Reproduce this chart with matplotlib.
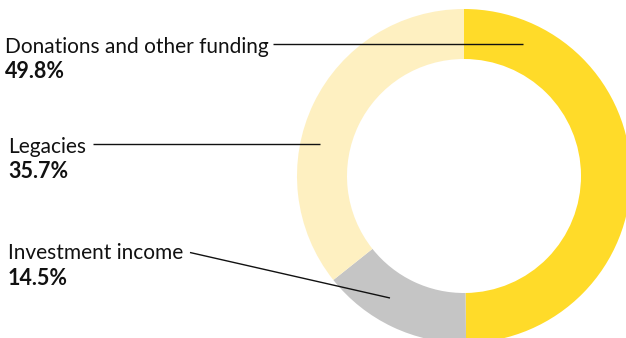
import matplotlib
matplotlib.use("Agg")
import matplotlib.pyplot as plt

categories = ["Donations and other funding", "Investment income", "Legacies"]
shares = [49.8, 14.5, 35.7]
colours = ["#FFDB29", "#C5C5C5", "#FEF0C1"]

W, H = 626, 338
fig = plt.figure(figsize=(W / 100, H / 100), dpi=100)
ax = fig.add_axes([0, 0, 1, 1])

# donut, centre and radius in pixels
cx, cy, r = 464, H - 176, 167
ax.pie(shares, colors=colours, startangle=90, counterclock=False,
       center=(cx, cy), radius=r, frame=True,
       wedgeprops=dict(width=50, edgecolor="none", linewidth=0))
ax.set_xlim(0, W)
ax.set_ylim(0, H)
ax.axis("off")

# label text: (x, name baseline, pct baseline) in pixels from top
label_pos = {
    "Donations and other funding": (5, 53, 78),
    "Legacies": (8, 153, 178),
    "Investment income": (8, 259, 285),
}
# leader lines (x0, y0, x1, y1) pixels from top
leaders = {
    "Donations and other funding": (273, 44, 523, 44),
    "Legacies": (93, 144, 320, 144),
    "Investment income": (190, 252.5, 390, 298),
}

for name, val in zip(categories, shares):
    x, yb, yp = label_pos[name]
    ax.text(x, H - yb, name, family="Lato", fontsize=15, color="#111111",
            va="baseline", ha="left")
    ax.text(x, H - yp, f"{val:.1f}%", family="Lato", fontweight="bold",
            fontsize=15.5, color="#111111", va="baseline", ha="left")
    x0, y0, x1, y1 = leaders[name]
    ax.plot([x0, x1], [H - y0, H - y1], color="#111111", lw=1.0, zorder=5,
            solid_capstyle="butt")

fig.savefig("out.png", dpi=100)
